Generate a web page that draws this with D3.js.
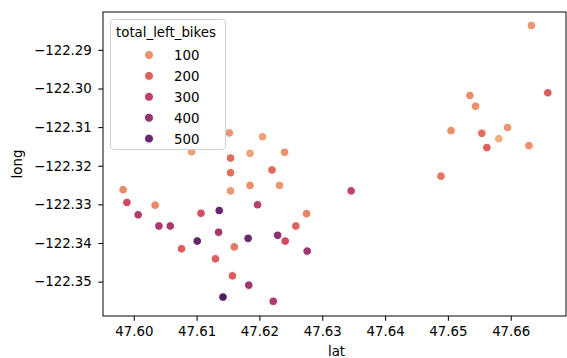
<!DOCTYPE html>
<html>
<head>
<meta charset="utf-8">
<script src="https://cdn.jsdelivr.net/npm/d3@7"></script>
<style>
  html, body { margin: 0; padding: 0; background: #fff; }
  svg { display: block; }
  text { font-family: "DejaVu Sans", sans-serif; fill: #000; }
</style>
</head>
<body>
<svg id="chart" width="567" height="358"></svg>
<script>
// Bike stations: latitude, longitude and number of bikes left
const lat = [
  47.5983, 47.5989, 47.6007, 47.6034, 47.6040, 47.6058, 47.6076, 47.6101,
  47.6107, 47.6092, 47.6136, 47.6135, 47.6130, 47.6142, 47.6152, 47.6154,
  47.6154, 47.6154, 47.6160, 47.6157, 47.6182, 47.6183, 47.6185, 47.6185,
  47.6197, 47.6205, 47.6220, 47.6222, 47.6229, 47.6232, 47.6240, 47.6241,
  47.6258, 47.6275, 47.6276, 47.6346, 47.6489, 47.6505, 47.6535, 47.6544,
  47.6554, 47.6562, 47.6581, 47.6595, 47.6629, 47.6633, 47.6659
];
const long = [
  -122.3262, -122.3295, -122.3327, -122.3302, -122.3356, -122.3356, -122.3415, -122.3395,
  -122.3323, -122.3164, -122.3316, -122.3372, -122.3441, -122.3540, -122.3115, -122.3180,
  -122.3218, -122.3265, -122.3410, -122.3485, -122.3388, -122.3509, -122.3168, -122.3251,
  -122.3301, -122.3125, -122.3211, -122.3551, -122.3380, -122.3251, -122.3165, -122.3395,
  -122.3356, -122.3324, -122.3421, -122.3265, -122.3227, -122.3109, -122.3018, -122.3046,
  -122.3116, -122.3153, -122.3130, -122.3101, -122.3148, -122.2837, -122.3011
];
const totalLeftBikes = [
  108, 262, 331, 112, 356, 352, 214, 517,
  247, 62, 498, 360, 207, 560, 86, 178,
  168, 81, 148, 210, 489, 372, 52, 96,
  318, 58, 176, 334, 418, 84, 92, 258,
  198, 126, 375, 291, 152, 98, 104, 101,
  170, 205, 30, 88, 97, 80, 214
];

const xTicks = [47.60, 47.61, 47.62, 47.63, 47.64, 47.65, 47.66];
const yTicks = [-122.29, -122.30, -122.31, -122.32, -122.33, -122.34, -122.35];
const legendLevels = [100, 200, 300, 400, 500];

const xLabel = "lat";
const yLabel = "long";
const legendTitle = "total_left_bikes";

// "flare" style sequential colormap, light orange to dark purple
const flareStops = ["#edb081", "#e98d6b", "#e3685c", "#d14a61", "#b13c6c", "#8f3371", "#6c2b6d", "#4b2160"];

const svg = d3.select("#chart");
const frame = { left: 103, right: 566, top: 12, bottom: 316 };

const x = d3.scaleLinear().domain([47.5951, 47.6688]).range([frame.left, frame.right]);
const y = d3.scaleLinear().domain([-122.3589, -122.2802]).range([frame.bottom, frame.top]);
const color = d3.scaleSequential(d3.piecewise(d3.interpolateRgb, flareStops))
  .domain(d3.extent(totalLeftBikes));

const fmt = d => d3.format(".2f")(d).replace("-", "\u2212");

// X axis
const xAxis = svg.append("g")
  .attr("transform", `translate(0,${frame.bottom})`)
  .call(d3.axisBottom(x).tickValues(xTicks).tickFormat(fmt).tickSize(4.7).tickPadding(5.5));
// Y axis
const yAxis = svg.append("g")
  .attr("transform", `translate(${frame.left},0)`)
  .call(d3.axisLeft(y).tickValues(yTicks).tickFormat(fmt).tickSize(4.7).tickPadding(6.5));

[xAxis, yAxis].forEach(g => {
  g.select(".domain").remove();
  g.selectAll(".tick line").attr("stroke", "#000").attr("stroke-width", 1.05);
  g.selectAll(".tick text").attr("font-size", "13.33px").attr("font-family", "DejaVu Sans").attr("fill", "#000");
});

// Frame
svg.append("rect")
  .attr("x", frame.left).attr("y", frame.top)
  .attr("width", frame.right - frame.left).attr("height", frame.bottom - frame.top)
  .attr("fill", "none").attr("stroke", "#111").attr("stroke-width", 1.05);

// Axis titles
svg.append("text")
  .attr("x", (frame.left + frame.right) / 2 + 2).attr("y", 355.5)
  .attr("text-anchor", "middle").attr("font-size", "13.33px").text(xLabel);
svg.append("text")
  .attr("transform", `translate(22,${(frame.top + frame.bottom) / 2}) rotate(-90)`)
  .attr("text-anchor", "middle").attr("font-size", "13.33px").text(yLabel);

// Points
svg.append("g").selectAll("circle")
  .data(d3.range(lat.length))
  .join("circle")
  .attr("cx", i => x(lat[i]))
  .attr("cy", i => y(long[i]))
  .attr("r", 4.3)
  .attr("fill", i => color(totalLeftBikes[i]))
  .attr("stroke", "#fff")
  .attr("stroke-width", 1);

// Legend
const legend = svg.append("g");
legend.append("rect")
  .attr("x", 110.5).attr("y", 19.5).attr("width", 115).attr("height", 130)
  .attr("rx", 3).attr("fill", "#fff").attr("fill-opacity", 0.8)
  .attr("stroke", "#d0d0d0").attr("stroke-width", 1);
legend.append("text")
  .attr("x", 116).attr("y", 37).attr("font-size", "13.33px").text(legendTitle);
const entries = legend.selectAll("g.entry")
  .data(legendLevels)
  .join("g")
  .attr("class", "entry")
  .attr("transform", (d, i) => `translate(0,${55 + i * 20.9})`);
entries.append("circle")
  .attr("cx", 149).attr("cy", 0).attr("r", 4.5)
  .attr("fill", d => color(d)).attr("stroke", "#fff").attr("stroke-width", 1);
entries.append("text")
  .attr("x", 174).attr("y", 5).attr("font-size", "13.33px").text(d => d);
</script>
</body>
</html>
